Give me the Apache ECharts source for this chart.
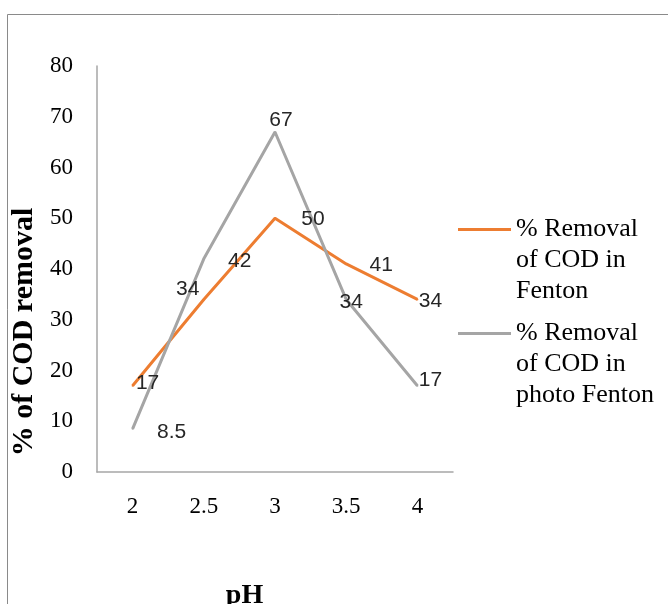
<!DOCTYPE html>
<html>
<head>
<meta charset="utf-8">
<script src="https://cdn.jsdelivr.net/npm/echarts@6/dist/echarts.min.js"></script>
<style>
html,body{margin:0;padding:0;background:#fff;}
#chart{width:668px;height:604px;}
</style>
</head>
<body>
<div id="chart"></div>
<script>
// ---- data ----
var phCategories = ['2', '2.5', '3', '3.5', '4'];
var fentonValues = [17, 34, 50, 41, 34];
var photoFentonValues = [8.5, 42, 67, 34, 17];
var seriesNames = ['% Removal\nof COD in\nFenton', '% Removal\nof COD in\nphoto Fenton'];
var yAxisTitle = '% of COD removal';
var xAxisTitle = 'pH';

// ---- label placement (pixels, not data) ----
var fentonLabelOffsets = [[15, -3], [-16, -10], [38, 1], [35, 1], [13, 2]];
var photoLabelOffsets = [[39, 3], [36, 2], [6, -12], [5, 3], [13, -6]];

var colors = ['#ED7D31', '#A5A5A5'];

function buildData(values, offsets) {
  return values.map(function (v, i) {
    return { value: v, label: { offset: offsets[i] } };
  });
}

var chart = echarts.init(document.getElementById('chart'), null, { renderer: 'canvas' });

var labelStyle = {
  show: true,
  position: 'inside',
  fontFamily: '"Liberation Sans", Arial, sans-serif',
  fontSize: 21,
  color: '#262626'
};

function legendFor(name, top) {
  return {
    data: [name],
    left: 458,
    top: top,
    padding: 0,
    orient: 'vertical',
    icon: 'rect',
    itemWidth: 53,
    itemHeight: 3,
    selectedMode: false,
    formatter: function (n) { return '\n\n' + n; },
    textStyle: {
      fontFamily: '"Liberation Serif", "Times New Roman", serif',
      fontSize: 26,
      lineHeight: 31,
      color: '#000'
    }
  };
}

var option = {
  animation: false,
  backgroundColor: '#fff',
  color: colors,
  graphic: [{
    type: 'rect',
    shape: { x: 7.5, y: 14.5, width: 800, height: 800 },
    style: { fill: 'none', stroke: '#8a8a8a', lineWidth: 1 },
    silent: true,
    z: -1
  }],
  legend: [legendFor(seriesNames[0], 152), legendFor(seriesNames[1], 256)],
  grid: { left: 97, top: 66, width: 356, height: 406, containLabel: false, outerBoundsMode: 'none' },
  xAxis: {
    type: 'category',
    data: phCategories,
    boundaryGap: true,
    name: xAxisTitle,
    nameLocation: 'middle',
    nameGap: 110,
    nameTextStyle: {
      fontFamily: '"Liberation Serif", "Times New Roman", serif',
      fontSize: 28,
      fontWeight: 'bold',
      color: '#000',
      padding: [0, 61, 0, 0]
    },
    axisLine: { show: true, lineStyle: { color: '#a6a6a6', width: 1.5 } },
    axisTick: { show: false },
    axisLabel: {
      margin: 23,
      fontFamily: '"Liberation Serif", "Times New Roman", serif',
      fontSize: 23,
      color: '#000'
    },
    splitLine: { show: false }
  },
  yAxis: {
    type: 'value',
    min: 0,
    max: 80,
    interval: 10,
    name: yAxisTitle,
    nameLocation: 'middle',
    nameGap: 56,
    nameTextStyle: {
      fontFamily: '"Liberation Serif", "Times New Roman", serif',
      fontSize: 30,
      fontWeight: 'bold',
      color: '#000',
      padding: [0, 126, 0, 0]
    },
    axisLine: { show: true, lineStyle: { color: '#a6a6a6', width: 1.5 } },
    axisTick: { show: false },
    axisLabel: {
      margin: 24,
      fontFamily: '"Liberation Serif", "Times New Roman", serif',
      fontSize: 23,
      color: '#000'
    },
    splitLine: { show: false }
  },
  series: [
    {
      name: seriesNames[0],
      type: 'line',
      data: buildData(fentonValues, fentonLabelOffsets),
      symbol: 'circle',
      symbolSize: 2,
      lineStyle: { width: 3, color: colors[0] },
      itemStyle: { color: colors[0] },
      label: labelStyle
    },
    {
      name: seriesNames[1],
      type: 'line',
      data: buildData(photoFentonValues, photoLabelOffsets),
      symbol: 'circle',
      symbolSize: 2,
      lineStyle: { width: 3, color: colors[1] },
      itemStyle: { color: colors[1] },
      label: labelStyle
    }
  ]
};

chart.setOption(option);
</script>
</body>
</html>
